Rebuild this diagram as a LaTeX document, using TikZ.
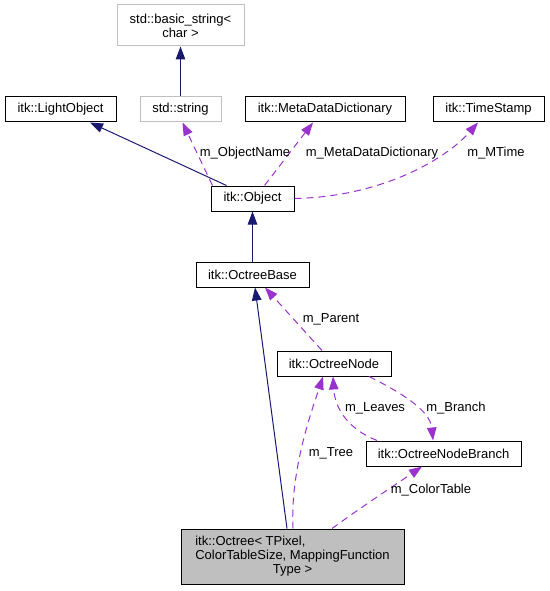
\documentclass[tikz,border=0pt]{standalone}
\usepackage{fontspec}
\usepackage{calc}
\setmainfont{Liberation Sans}
\usetikzlibrary{arrows.meta}
\definecolor{navy}{HTML}{191970}
\definecolor{orchid}{HTML}{9A32CD}
\definecolor{lgray}{HTML}{BFBFBF}
\tikzset{
  cls/.style={draw=black, line width=1pt, fill=white, inner sep=0pt, minimum height=25pt, align=center},
  ext/.style={cls, draw=lgray},
  inh/.style={draw=navy, line width=1pt, -{Triangle[length=13pt,width=9.5pt]}},
  dep/.style={draw=orchid, line width=1pt, dash pattern=on 7pt off 5pt, -{Triangle[length=13pt,width=9.5pt]}},
  lbl/.style={inner sep=0pt, text=black}
}
\begin{document}
\begin{tikzpicture}[x=1pt,y=-1pt,font=\fontsize{13}{14}\selectfont]
\useasboundingbox (0,0) rectangle (549,591);
% nodes
\node[ext, minimum width=127pt, minimum height=41pt] (bstr) at (180.5,25.5) {std::basic\_string<\\char >};
\node[cls, minimum width=111pt] (lobj) at (60.5,109.5) {itk::LightObject};
\node[ext, minimum width=81pt] (sstr) at (180.5,109.5) {std::string};
\node[cls, minimum width=160pt] (mdd) at (325,109.5) {itk::MetaDataDictionary};
\node[cls, minimum width=111pt] (ts) at (488.5,109.5) {itk::TimeStamp};
\node[cls, minimum width=83pt] (obj) at (252.5,198.5) {itk::Object};
\node[cls, minimum width=113pt] (ob) at (252.5,274.5) {itk::OctreeBase};
\node[cls, minimum width=114pt] (on) at (334,363.5) {itk::OctreeNode};
\node[cls, minimum width=155pt] (onb) at (443.5,453.5) {itk::OctreeNodeBranch};
\node[cls, fill=lgray, minimum width=223pt, minimum height=55pt] (oct) at (292.5,556.5)
  {\makebox[\widthof{ColorTableSize, MappingFunction}][l]{itk::Octree< TPixel,}\\ColorTableSize, MappingFunction\\Type >};
% inheritance
\draw[inh] (sstr) -- (bstr);
\draw[inh] ([xshift=-26pt]obj.north) -- ([xshift=29.5pt]lobj.south);
\draw[inh] (ob) -- (obj);
\draw[inh] ([xshift=-5.5pt]oct.north) -- ([xshift=2.5pt]ob.south);
% usage
\draw[dep] ([xshift=-40pt]obj.north) -- ([xshift=2pt]sstr.south);
\draw[dep] ([xshift=12pt]obj.north) -- ([xshift=-12pt]mdd.south);
\draw[dep] (obj.east) .. controls (380,197) and (445,160) .. ([xshift=-10.5pt]ts.south);
\draw[dep] ([xshift=-12pt]on.north) -- ([xshift=12.5pt]ob.south);
\draw[dep] ([xshift=-66.5pt]onb.north) .. controls (350,430) and (335,410) .. ([xshift=-1pt]on.south);
\draw[dep] ([xshift=35pt]on.south) .. controls (400,392) and (430,410) .. ([xshift=-10.5pt]onb.north);
\draw[dep] ([xshift=0.5pt]oct.north) .. controls (290,470) and (312,410) .. ([xshift=-11pt]on.south);
\draw[dep] ([xshift=39.5pt]oct.north) .. controls (360,508) and (395,485) .. ([xshift=-21.5pt]onb.south);
% labels
\node[lbl] (l1) at (245,153) {m\_ObjectName};
\node[lbl] (l2) at (372,153) {m\_MetaDataDictionary};
\node[lbl] (l3) at (496,153) {m\_MTime};
\node[lbl] (l4) at (331,319) {m\_Parent};
\node[lbl] (l5) at (375,408) {m\_Leaves};
\node[lbl] (l6) at (456,408) {m\_Branch};
\node[lbl] (l7) at (331,453) {m\_Tree};
\node[lbl] (l8) at (431,490) {m\_ColorTable};
\end{tikzpicture}
\end{document}
